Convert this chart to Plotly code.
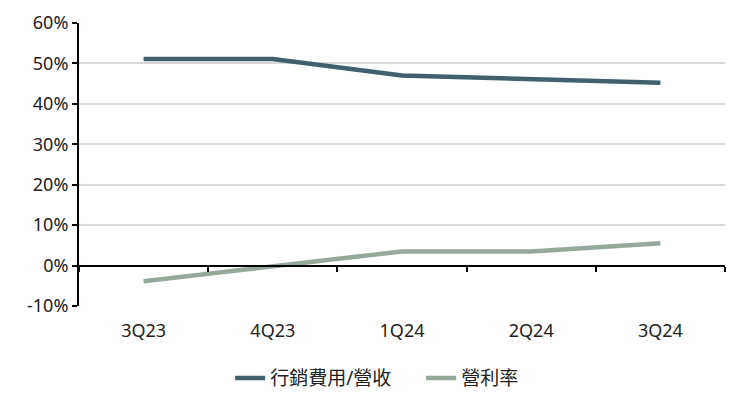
import plotly.graph_objects as go

categories = ["3Q23", "4Q23", "1Q24", "2Q24", "3Q24"]
marketing_ratio = [51.1, 51.1, 47.0, 46.0, 45.2]
op_margin = [-3.85, -0.2, 3.5, 3.5, 5.5]
series_names = ["行銷費用/營收", "營利率"]
y_ticks = [-10, 0, 10, 20, 30, 40, 50, 60]
y_tick_text = ["-10%", "0%", "10%", "20%", "30%", "40%", "50%", "60%"]

font_family = "Noto Sans, Noto Sans CJK TC, sans-serif"

fig = go.Figure()
fig.add_trace(go.Scatter(x=categories, y=marketing_ratio, mode="lines",
                         name=series_names[0],
                         line=dict(color="#41606D", width=4.5)))
fig.add_trace(go.Scatter(x=categories, y=op_margin, mode="lines",
                         name=series_names[1],
                         line=dict(color="#94A99B", width=4.5)))
# invisible trace for the zero-line axis with boundary ticks
fig.add_trace(go.Scatter(x=categories, y=[None]*len(categories), xaxis="x2",
                         showlegend=False, hoverinfo="skip", mode="lines"))

fig.update_layout(
    width=742, height=401,
    margin=dict(l=71, r=25, t=15, b=100),
    paper_bgcolor="white", plot_bgcolor="white",
    font=dict(family=font_family, size=18, color="#222222"),
    showlegend=True,
    legend=dict(orientation="h", x=0.234, xanchor="left", y=-0.255, yanchor="middle",
                font=dict(size=19), traceorder="normal",
                entrywidth=146, entrywidthmode="pixels"),
    xaxis=dict(type="category", categoryarray=categories, showline=False,
               showgrid=False, ticks="", zeroline=False, automargin=False,
               range=[-0.5, 4.5], ticklabelstandoff=12,
               tickfont=dict(size=18)),
    xaxis2=dict(type="category", categoryarray=categories, overlaying="x",
                anchor="free", position=1/7, side="bottom",
                showline=True, linecolor="black", linewidth=2,
                ticks="outside", tickson="boundaries", ticklen=5,
                tickcolor="black", tickwidth=1.5, automargin=False,
                showticklabels=False, showgrid=False, range=[-0.5, 4.5]),
    yaxis=dict(range=[-10, 60], tickmode="array", tickvals=y_ticks,
               ticktext=y_tick_text, tickfont=dict(size=18), automargin=False,
               showline=True, linecolor="black", linewidth=2,
               ticks="outside", ticklen=5, tickcolor="black", tickwidth=1.5,
               showgrid=True, gridcolor="#D9D9D9", gridwidth=1.5,
               zeroline=False),
)

fig.write_html("out.html")
